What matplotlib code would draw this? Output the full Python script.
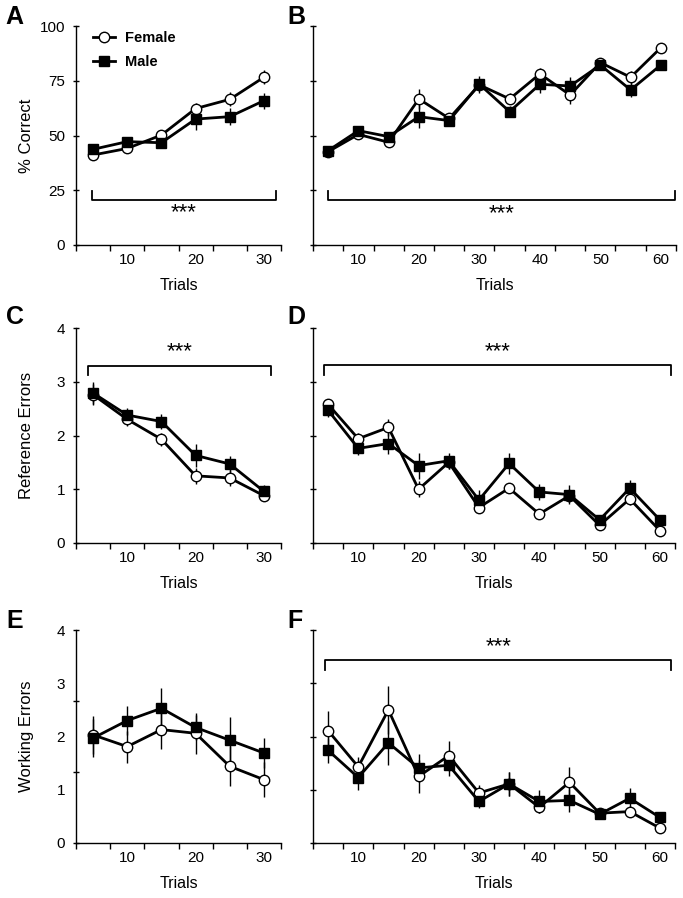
import numpy as np
import matplotlib.pyplot as plt
from matplotlib.ticker import FixedLocator, NullFormatter
from matplotlib.lines import Line2D

plt.rcParams['font.family'] = ['Liberation Sans', 'DejaVu Sans']

trials_short = [5, 10, 15, 20, 25, 30]
trials_long = [5, 10, 15, 20, 25, 30, 35, 40, 45, 50, 55, 60]

# A: % correct, first block
A_female = [41.1, 44.1, 50.2, 62.3, 66.5, 76.6]
A_female_err = [1.2, 1.2, 1.8, 2.4, 3.2, 3.3]
A_male = [43.7, 47.2, 46.7, 57.5, 58.6, 65.9]
A_male_err = [1.2, 1.2, 1.8, 5.0, 3.8, 3.6]

# B: % correct, second block
B_female = [42.6, 50.5, 46.9, 66.7, 57.8, 73.1, 66.7, 78.1, 68.5, 83.3, 76.6, 90.1]
B_female_err = [1.0, 1.5, 1.5, 4.4, 2.0, 2.5, 2.5, 2.5, 4.0, 2.0, 3.0, 2.0]
B_male = [43.1, 52.2, 49.5, 58.6, 56.8, 73.4, 60.9, 73.4, 72.6, 82.2, 70.8, 82.2]
B_male_err = [1.0, 1.5, 2.0, 5.3, 2.0, 3.8, 2.5, 4.0, 4.0, 2.0, 3.0, 2.5]

# C: reference errors, first block
C_female = [2.76, 2.30, 1.93, 1.25, 1.21, 0.88]
C_female_err = [0.2, 0.12, 0.12, 0.15, 0.15, 0.1]
C_male = [2.79, 2.38, 2.26, 1.63, 1.47, 0.96]
C_male_err = [0.2, 0.14, 0.14, 0.22, 0.15, 0.12]

# D: reference errors, second block
D_female = [2.58, 1.94, 2.15, 1.00, 1.50, 0.66, 1.02, 0.54, 0.88, 0.33, 0.82, 0.23]
D_female_err = [0.1, 0.1, 0.15, 0.15, 0.12, 0.1, 0.08, 0.08, 0.12, 0.06, 0.12, 0.05]
D_male = [2.47, 1.76, 1.85, 1.44, 1.53, 0.80, 1.48, 0.95, 0.90, 0.43, 1.02, 0.43]
D_male_err = [0.12, 0.12, 0.2, 0.24, 0.15, 0.18, 0.2, 0.15, 0.18, 0.07, 0.15, 0.06]

# E: working errors, first block
E_female = [2.03, 1.81, 2.13, 2.06, 1.44, 1.19]
E_female_err = [0.35, 0.3, 0.37, 0.38, 0.375, 0.33]
E_male = [1.97, 2.30, 2.53, 2.17, 1.93, 1.69]
E_male_err = [0.35, 0.27, 0.39, 0.24, 0.44, 0.28]

# F: working errors, second block
F_female = [2.11, 1.43, 2.50, 1.25, 1.64, 0.94, 1.11, 0.67, 1.14, 0.56, 0.59, 0.28]
F_female_err = [0.36, 0.18, 0.45, 0.31, 0.28, 0.15, 0.23, 0.1, 0.28, 0.08, 0.1, 0.06]
F_male = [1.74, 1.23, 1.88, 1.41, 1.46, 0.78, 1.11, 0.78, 0.80, 0.54, 0.84, 0.48]
F_male_err = [0.24, 0.23, 0.41, 0.27, 0.2, 0.12, 0.23, 0.22, 0.22, 0.08, 0.19, 0.1]

W, H = 683, 898
fig = plt.figure(figsize=(W / 100, H / 100), dpi=100)


def px_axes(left, top, right, bottom):
    return fig.add_axes([left / W, 1 - bottom / H, (right - left) / W, (bottom - top) / H])


def draw_panel(ax, x, fem, fem_err, mal, mal_err, ymax):
    x = np.array(x)
    ax.vlines(x, np.array(fem) - fem_err, np.array(fem) + fem_err, color='black', lw=1.0, zorder=1)
    ax.vlines(x, np.array(mal) - mal_err, np.array(mal) + mal_err, color='black', lw=1.0, zorder=1)
    ax.plot(x, fem, color='black', lw=2.0, marker='o', ms=7.5, mfc='white', mec='black', mew=1.0,
            zorder=3, label='Female')
    ax.plot(x, mal, color='black', lw=2.0, marker='s', ms=6.5, mfc='black', mec='black',
            zorder=4, label='Male')
    n = len(x)
    ax.set_xlim(2.5, 2.5 + 5 * n)
    ax.set_ylim(0, ymax)
    ax.spines['top'].set_visible(False)
    ax.spines['right'].set_visible(False)
    for s in ['left', 'bottom']:
        ax.spines[s].set_linewidth(1.0)
    ax.xaxis.set_major_locator(FixedLocator(list(range(10, 5 * n + 1, 10))))
    ax.xaxis.set_minor_locator(FixedLocator([2.5 + 5 * k for k in range(n + 1)]))
    ax.xaxis.remove_overlapping_locs = False
    ax.tick_params(axis='x', which='major', length=0, pad=6, labelsize=11)
    ax.tick_params(axis='x', which='minor', length=4, width=1.0, direction='out')
    ax.tick_params(axis='y', which='major', length=4, width=1.0, direction='inout', pad=6, labelsize=11)
    ax.set_xlabel('Trials', fontsize=11.5)
    h_px = ax.get_position().height * H
    ax.xaxis.set_label_coords(0.5, -41 / h_px)
    ax.xaxis.label.set_va('center')


def bracket(ax, x0, x1, y, yend, ystar):
    ax.plot([x0, x0, x1, x1], [yend, y, y, yend], color='black', lw=1.3, zorder=2)
    ax.text((x0 + x1) / 2, ystar, '***', ha='center', va='center', fontsize=16)


def ylab(ax, text):
    ax.set_ylabel(text, fontsize=12)
    w_px = ax.get_position().width * W
    ax.yaxis.set_label_coords(-(76 - 27) / w_px, 0.5)
    ax.yaxis.label.set_va('center')


axA = px_axes(76, 26, 281, 245)
axB = px_axes(313, 26, 676, 245)
axC = px_axes(76, 328, 281, 543)
axD = px_axes(313, 328, 675, 543)
axE = px_axes(76, 630, 281, 843)
axF = px_axes(313, 630, 675, 843)

draw_panel(axA, trials_short, A_female, A_female_err, A_male, A_male_err, 100)
axA.set_yticks([0, 25, 50, 75, 100])
ylab(axA, '% Correct')
bracket(axA, 4.8, 31.8, 20.5, 24.8, 14.8)
handles = [Line2D([], [], color='black', lw=2.0, marker='o', ms=7.5, mfc='white', mec='black'),
           Line2D([], [], color='black', lw=2.0, marker='s', ms=6.5, mfc='black', mec='black')]
axA.legend(handles, ['Female', 'Male'], loc='upper left', bbox_to_anchor=(0.085, 0.978),
           frameon=False, handlelength=1.5, handletextpad=0.65, labelspacing=0.7,
           borderpad=0, borderaxespad=0, prop={'weight': 'bold', 'size': 10.5})

draw_panel(axB, trials_long, B_female, B_female_err, B_male, B_male_err, 100)
axB.set_yticks([0, 25, 50, 75, 100])
axB.yaxis.set_major_formatter(NullFormatter())
bracket(axB, 5.0, 62.4, 20.5, 24.8, 14.5)

draw_panel(axC, trials_short, C_female, C_female_err, C_male, C_male_err, 4)
axC.set_yticks([0, 1, 2, 3, 4])
ylab(axC, 'Reference Errors')
bracket(axC, 4.2, 31.1, 3.3, 3.13, 3.55)

draw_panel(axD, trials_long, D_female, D_female_err, D_male, D_male_err, 4)
axD.set_yticks([0, 1, 2, 3, 4])
axD.yaxis.set_major_formatter(NullFormatter())
bracket(axD, 4.4, 61.8, 3.32, 3.13, 3.55)

draw_panel(axE, trials_short, E_female, E_female_err, E_male, E_male_err, 4)
# tick marks and labels do not line up in the original panel
axE.set_yticks([0, 1, 2, 3, 4])
axE.yaxis.set_minor_locator(FixedLocator([0, 4 / 3, 8 / 3, 4]))
axE.yaxis.remove_overlapping_locs = False
axE.tick_params(axis='y', which='major', length=0, pad=8)
axE.tick_params(axis='y', which='minor', length=4, width=1.0, direction='inout')
ylab(axE, 'Working Errors')

draw_panel(axF, trials_long, F_female, F_female_err, F_male, F_male_err, 4)
axF.set_yticks([0, 1, 2, 3, 4])
axF.yaxis.set_major_formatter(NullFormatter())
bracket(axF, 4.5, 61.9, 3.44, 3.24, 3.69)

for letter, x, y in [('A', 5, 17), ('B', 287, 17), ('C', 6, 317), ('D', 287, 317),
                     ('E', 6, 621), ('F', 287, 621)]:
    fig.text(x / W, 1 - y / H, letter, fontsize=18, fontweight='bold', ha='left', va='center')

fig.savefig('out.png', dpi=100)
